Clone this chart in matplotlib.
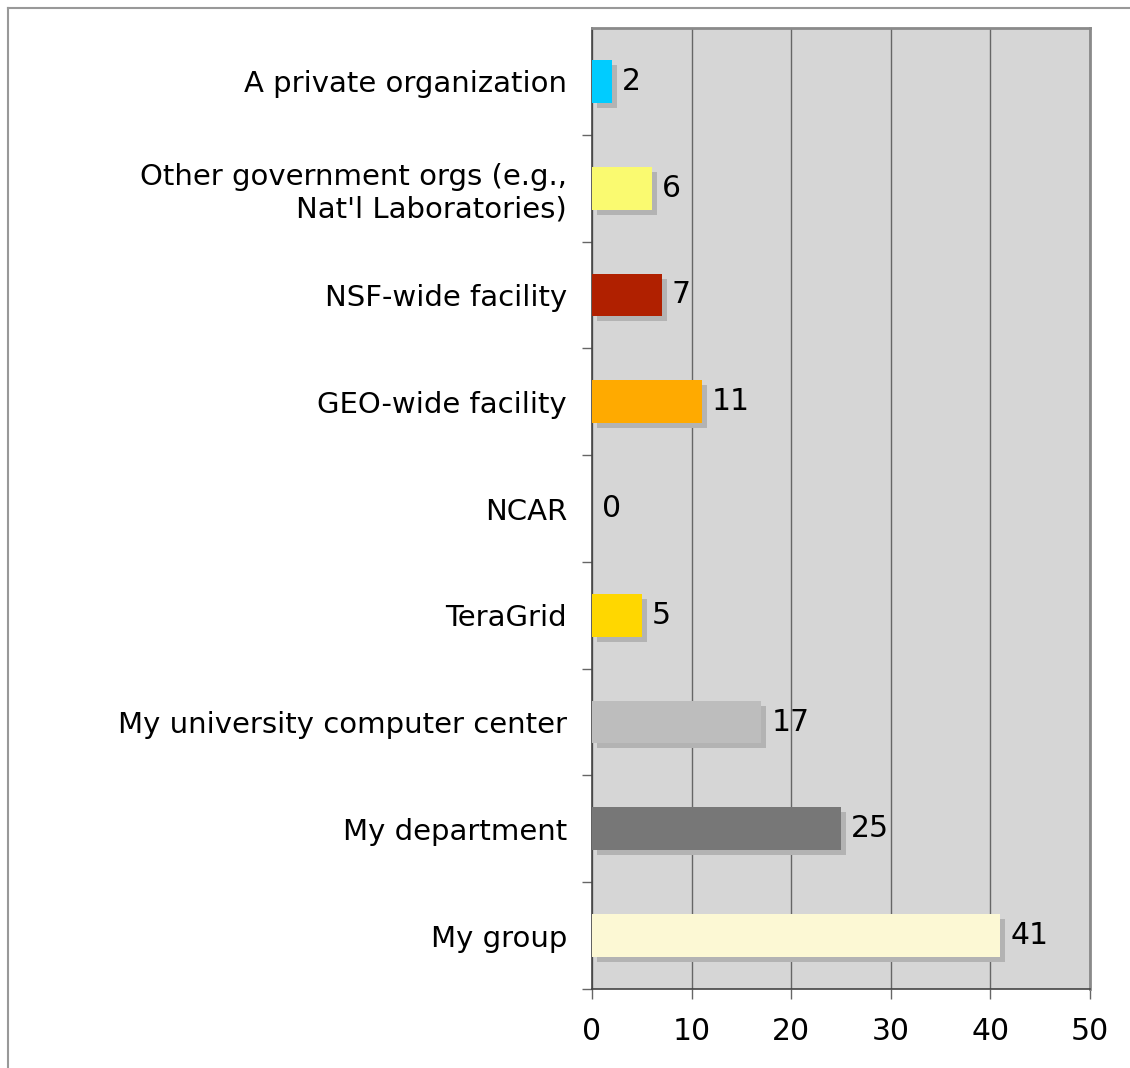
import matplotlib
matplotlib.use("Agg")
import matplotlib.pyplot as plt
from matplotlib.lines import Line2D
from matplotlib.transforms import ScaledTranslation
from matplotlib.ticker import FixedLocator

# data, top to bottom as shown
categories = ["A private organization",
              "Other government orgs (e.g.,\nNat'l Laboratories)",
              "NSF-wide facility",
              "GEO-wide facility",
              "NCAR",
              "TeraGrid",
              "My university computer center",
              "My department",
              "My group"]
values = [2, 6, 7, 11, 0, 5, 17, 25, 41]
colors = ["#00ccff", "#fafa70", "#b02000", "#ffaa00", "#ff4400",
          "#ffd700", "#bdbdbd", "#777777", "#fcf8d4"]
x_ticks = [0, 10, 20, 30, 40, 50]

fig = plt.figure(figsize=(11.3, 10.68), dpi=100)
ax = fig.add_axes([592/1130, 1 - 989/1068, 498/1130, 961/1068])
ax.set_facecolor("#d6d6d6")

ypos = list(range(len(categories)))
bar_h = 0.4

# drop shadows first
shadow = ax.transData + ScaledTranslation(0.05, -0.05, fig.dpi_scale_trans)
ax.barh(ypos, values, height=bar_h, color="#b3b3b3", transform=shadow, zorder=2)
ax.barh(ypos, values, height=bar_h, color=colors, zorder=3)

for y, v in zip(ypos, values):
    ax.annotate(str(v), (v, y), xytext=(10, 0), textcoords="offset pixels",
                ha="left", va="center", fontsize=21.5, zorder=4)

ax.set_xlim(0, 50)
ax.set_ylim(len(categories) - 0.5, -0.5)
ax.set_xticks(x_ticks)
ax.set_yticks(ypos)
ax.set_yticklabels(categories)
ax.yaxis.set_minor_locator(FixedLocator([y + 0.5 for y in ypos]))

ax.grid(axis="x", color="#666666", linewidth=1, zorder=1)
ax.set_axisbelow(True)

ax.tick_params(axis="y", which="major", length=0, pad=18, labelsize=21)
ax.tick_params(axis="y", which="minor", length=7, width=1, color="#666666")
ax.tick_params(axis="x", length=7, width=1, color="#666666", pad=13, labelsize=21.5)

for s in ["top", "right"]:
    ax.spines[s].set_color("#8a8a8a")
    ax.spines[s].set_linewidth(2)
for s in ["left", "bottom"]:
    ax.spines[s].set_color("#444444")
    ax.spines[s].set_linewidth(1.2)

# outer frame (only top and left visible)
fig.add_artist(Line2D([8/1130, 1], [1 - 8/1068, 1 - 8/1068], color="#999999", linewidth=1.5))
fig.add_artist(Line2D([8/1130, 8/1130], [1 - 8/1068, 0], color="#999999", linewidth=1.5))

fig.savefig("out.png", dpi=100, facecolor="white")
